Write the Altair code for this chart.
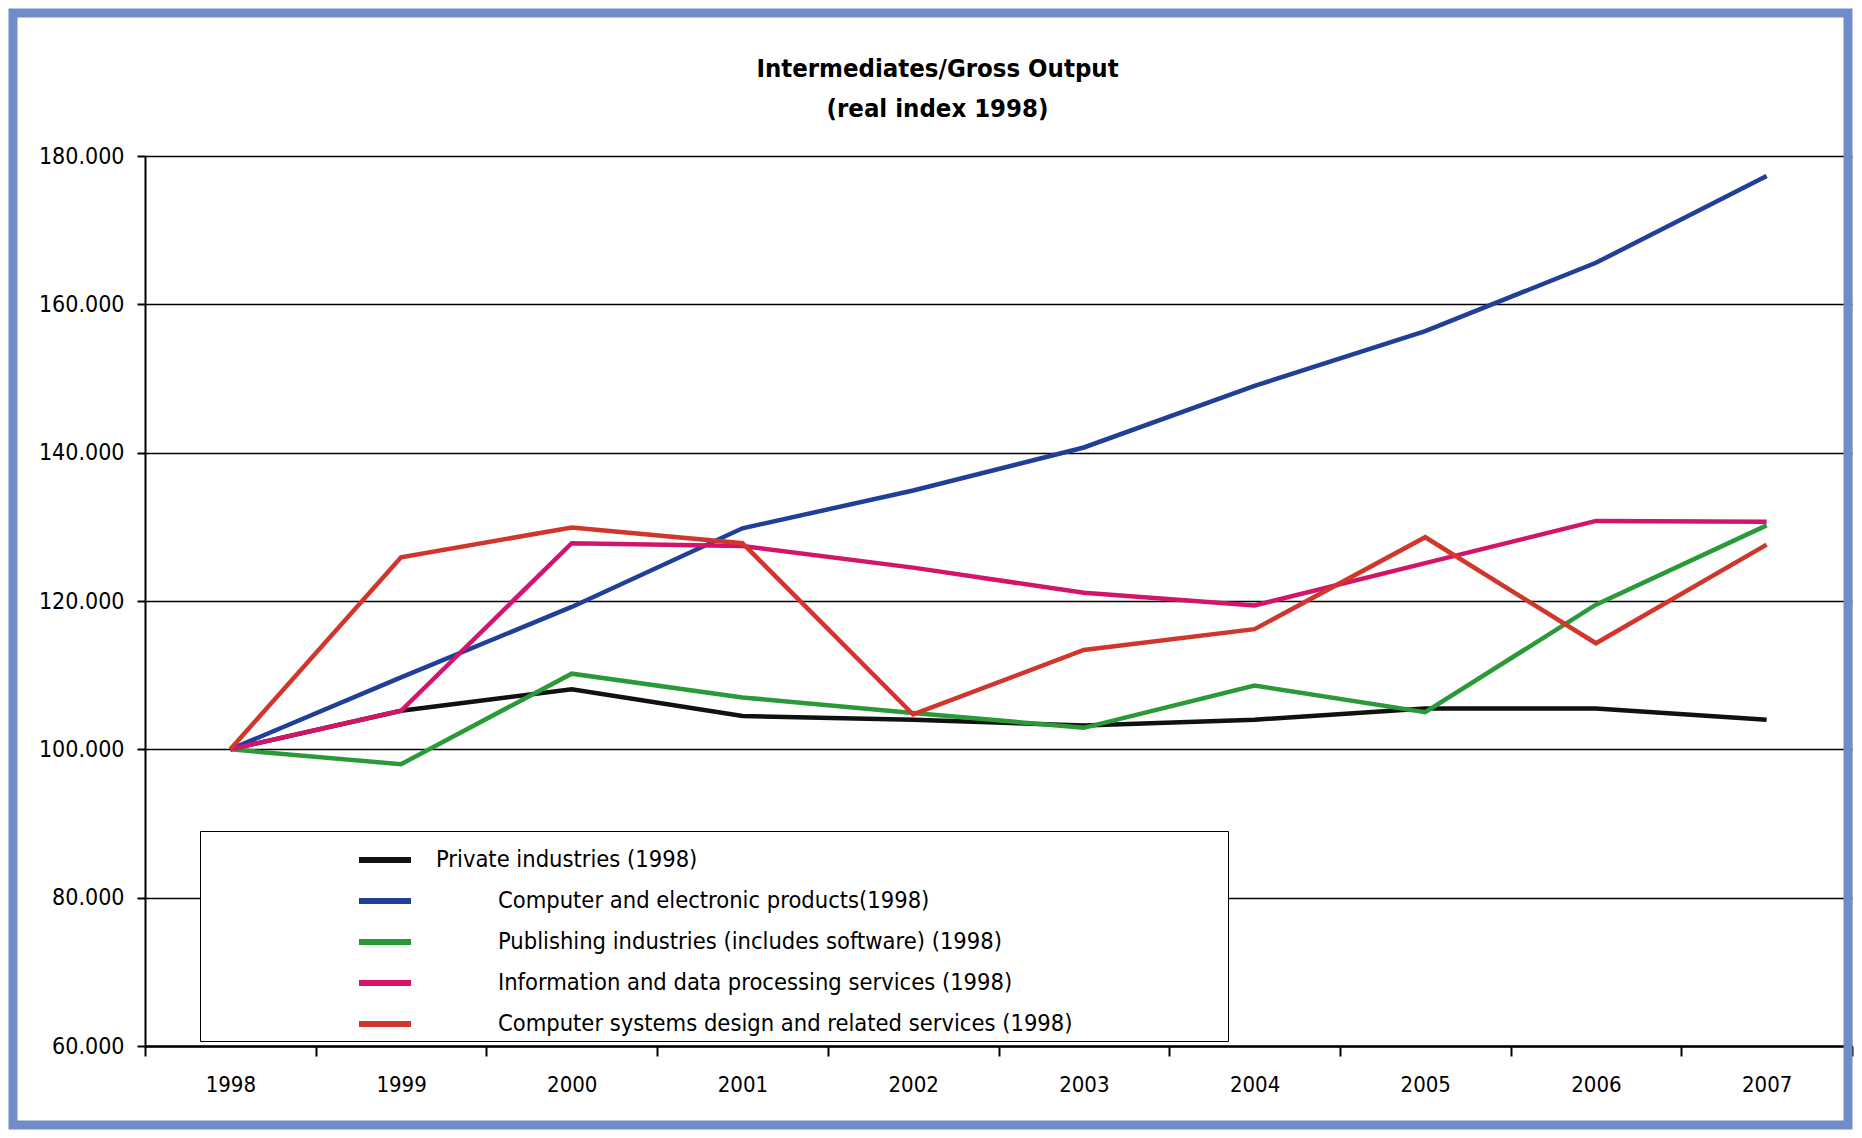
import altair as alt
import pandas as pd

years = ["1998", "1999", "2000", "2001", "2002", "2003", "2004", "2005", "2006", "2007"]
series_names = [
    "Private industries (1998)",
    "Computer and electronic products(1998)",
    "Publishing industries (includes software) (1998)",
    "Information and data processing services (1998)",
    "Computer systems design and related services (1998)",
]
private = [100, 105.2, 108.1, 104.5, 104.0, 103.2, 104.0, 105.5, 105.5, 104.0]
computer = [100, 109.7, 119.2, 129.8, 134.9, 140.7, 149.0, 156.4, 165.6, 177.3]
publishing = [100, 98.0, 110.2, 107.0, 104.9, 102.9, 108.6, 105.0, 119.5, 130.2]
information = [100, 105.2, 127.8, 127.4, 124.5, 121.1, 119.4, 125.1, 130.8, 130.7]
systems = [100, 125.9, 129.9, 127.8, 104.7, 113.4, 116.2, 128.6, 114.3, 127.6]
colors = ["#111111", "#1f3f98", "#2a9a38", "#d2156a", "#d0362b"]
y_ticks = [60, 80, 100, 120, 140, 160, 180]

rows = []
for name, vals in zip(series_names, [private, computer, publishing, information, systems]):
    for yr, v in zip(years, vals):
        rows.append({"year": yr, "value": v, "series": name})
df = pd.DataFrame(rows)

FONT = "DejaVu Sans Condensed, Liberation Sans Narrow, sans-serif"
BL = "\u2800"  # blank glyph used as spacer (not trimmed)

label_expr = (
    "(datum.label == 'Private industries (1998)' ? datum.label : '"
    + BL * 4
    + "' + datum.label) + '"
    + BL * 10
    + "'"
)

lines = alt.Chart(df).mark_line(clip=False, strokeWidth=4.5).encode(
    x=alt.X(
        "year:O",
        scale=alt.Scale(type="band", paddingInner=0, paddingOuter=0, domain=years),
        bandPosition=0.5,
        axis=alt.Axis(
            title=None,
            labelAngle=0,
            tickBand="extent",
            tickSize=10,
            tickColor="black",
            tickWidth=2,
            labelPadding=18,
            labelFontSize=22,
            labelFont=FONT,
            labelColor="black",
            domainColor="black",
            domainWidth=2.5,
            grid=False,
        ),
    ),
    y=alt.Y(
        "value:Q",
        scale=alt.Scale(domain=[60, 180], nice=False, zero=False),
        axis=alt.Axis(
            title=None,
            values=y_ticks,
            format=".3f",
            tickSize=8,
            tickColor="black",
            tickWidth=2,
            labelPadding=13,
            labelFontSize=23,
            labelFont=FONT,
            labelColor="black",
            domainColor="black",
            domainWidth=2,
            grid=True,
            gridColor="black",
            gridWidth=1.5,
        ),
    ),
    color=alt.Color(
        "series:N",
        scale=alt.Scale(domain=series_names, range=colors),
        sort=series_names,
        legend=alt.Legend(
            orient="none",
            legendX=55,
            legendY=675,
            title=[BL * 9, BL],
            titleOrient="left",
            titleAnchor="start",
            titleBaseline="top",
            titleLineHeight=186,
            titlePadding=0,
            titleFontSize=24.5,
            titleFont=FONT,
            titleLimit=1000,
            strokeColor="black",
            fillColor="white",
            padding=0,
            symbolType="stroke",
            symbolSize=2704,
            symbolStrokeWidth=6,
            labelFontSize=23.5,
            labelFont=FONT,
            labelColor="black",
            labelOffset=22,
            labelLimit=2000,
            labelExpr=label_expr,
            rowPadding=-11,
        ),
    ),
    order=alt.Order("year:O"),
)

frame = alt.Chart(pd.DataFrame({"f": [0]})).mark_rect(
    filled=False, stroke="#6f8cc8", strokeWidth=9, clip=False
).encode(
    x=alt.value(-132), x2=alt.value(1703), y=alt.value(-143), y2=alt.value(969)
)

chart = alt.layer(frame, lines).properties(
    width=1707,
    height=890,
    autosize=alt.AutoSizeParams(type="none"),
    padding={"left": 137, "top": 148, "right": 2, "bottom": 84},
    title=alt.TitleParams(
        text=["Intermediates/Gross Output", "(real index 1998)"],
        fontSize=25.5,
        fontWeight="bold",
        font=FONT,
        color="black",
        lineHeight=40,
        anchor="middle",
        frame="group",
        dx=-61,
        offset=-114,
    ),
).configure_view(strokeWidth=0).configure(background="white")

chart.save("out.html", embed_options={"renderer": "svg", "actions": False})
